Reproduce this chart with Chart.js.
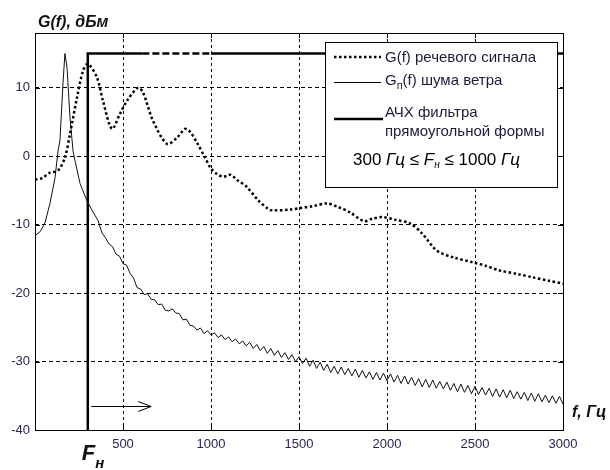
<!DOCTYPE html>
<html>
<head>
<meta charset="utf-8">
<script src="https://cdn.jsdelivr.net/npm/chart.js@4"></script>
<style>
  body { margin: 0; background: #fff; }
</style>
</head>
<body>
<canvas id="myChart" width="610" height="470"></canvas>
<script>
const xTicks = [500, 1000, 1500, 2000, 2500, 3000];
const yTicks = [-40, -30, -20, -10, 0, 10];

// G(f) speech signal, dBm
const speechF = [0, 40, 85, 131, 170, 199, 239, 273, 301, 352, 386, 437, 483, 523, 585, 614, 670, 750, 807, 852,
  880, 920, 966, 1000, 1034, 1070, 1110, 1150, 1204, 1270, 1320, 1346, 1450, 1500, 1580, 1660, 1720, 1790, 1870,
  1920, 1977, 2050, 2130, 2200, 2283, 2380, 2488, 2560, 2641, 2740, 2829, 2920, 3000];
const speechG = [-3.4, -3.2, -2.4, -2.1, -0.2, 3.3, 8.6, 12.5, 13.5, 11.5, 8.1, 4.0, 6.2, 8.1, 10.0, 9.3, 5.2, 1.8, 2.7, 4.0,
  3.6, 2.0, -0.2, -1.8, -2.6, -3.0, -2.7, -3.5, -4.5, -6.5, -7.6, -7.9, -7.8, -7.6, -7.3, -6.9, -7.4, -8.2, -9.5,
  -9.1, -8.9, -9.3, -9.8, -11.3, -13.8, -14.8, -15.5, -16.0, -16.7, -17.2, -17.7, -18.2, -18.6];

// Gп(f) wind noise, dBm
const noiseF = [0, 30, 57, 85, 114, 131, 142, 159, 170, 182, 199, 216, 227, 256, 295, 324, 358, 380,
  400, 420, 440, 460, 480, 500, 520, 540, 560, 580,
  600, 620, 640, 660, 680, 700, 720, 740, 760, 780,
  800, 820, 840, 860, 880, 900, 920, 940, 960, 980,
  1000, 1020, 1040, 1060, 1080, 1100, 1120, 1140, 1160, 1180,
  1200, 1220, 1240, 1260, 1280, 1300, 1320, 1340, 1360, 1380,
  1400, 1420, 1440, 1460, 1480, 1500, 1520, 1540, 1560, 1580,
  1600, 1620, 1640, 1660, 1680, 1700, 1720, 1740, 1760, 1780,
  1800, 1820, 1840, 1860, 1880, 1900, 1920, 1940, 1960, 1980,
  2000, 2020, 2040, 2060, 2080, 2100, 2120, 2140, 2160, 2180,
  2200, 2220, 2240, 2260, 2280, 2300, 2320, 2340, 2360, 2380,
  2400, 2420, 2440, 2460, 2480, 2500, 2520, 2540, 2560, 2580,
  2600, 2620, 2640, 2660, 2680, 2700, 2720, 2740, 2760, 2780,
  2800, 2820, 2840, 2860, 2880, 2900, 2920, 2940, 2960, 2980,
  3000];
const noiseG = [-11.6, -11.0, -9.7, -6.9, -3.1, 0.8, 2.3, 10.6, 15.0, 12.9, 5.6, 0.8, -0.6, -4.0, -6.5, -7.9, -9.4, -11.2,
  -11.9, -12.8, -13.2, -14.3, -14.6, -15.7, -15.9, -17.1, -17.8, -19.2,
  -19.4, -20.2, -20.1, -20.9, -21.0, -21.7, -21.6, -22.5, -22.6, -22.3,
  -22.9, -23.0, -23.9, -23.8, -24.7, -24.8, -25.4, -25.1, -25.9, -25.5,
  -26.1, -25.8, -26.5, -26.1, -26.8, -26.4, -27.1, -26.7, -27.4, -27.0,
  -27.7, -27.2, -28.1, -27.5, -28.4, -27.8, -28.8, -28.1, -29.1, -28.4,
  -29.4, -28.7, -29.7, -29.0, -30.0, -29.3, -30.3, -29.5, -30.7, -29.8,
  -31.0, -30.1, -31.3, -30.4, -31.6, -30.7, -31.8, -30.8, -31.9, -31.0,
  -32.1, -31.1, -32.3, -31.3, -32.4, -31.5, -32.6, -31.6, -32.7, -31.7,
  -32.8, -31.8, -33.0, -32.0, -33.2, -32.1, -33.3, -32.3, -33.5, -32.5,
  -33.7, -32.6, -33.8, -32.7, -33.9, -32.9, -34.0, -33.0, -34.2, -33.2,
  -34.4, -33.3, -34.5, -33.5, -34.7, -33.6, -34.8, -33.8, -34.9, -33.9,
  -35.1, -34.0, -35.2, -34.1, -35.3, -34.2, -35.4, -34.4, -35.5, -34.5,
  -35.7, -34.6, -35.8, -34.7, -35.9, -34.9, -36.0, -35.0, -36.1, -35.1,
  -36.2];

// АЧХ filter (rectangular), Fн = 300 Hz
const filterF = [300, 300, 610, 1000, 3000];
const filterG = [-40, 15, 15, 15, 15];

const FONT = "'Liberation Sans', Arial, sans-serif";
const toXY = (xs, ys) => xs.map((x, i) => ({ x: x, y: ys[i] }));

function drawRuns(c, x, y, runs) {
  runs.forEach(([t, font, dy]) => {
    c.font = font;
    c.fillText(t, x, y + (dy || 0));
    x += c.measureText(t).width;
  });
}

const decor = {
  id: "decor",
  afterDatasetsDraw(chart) {
    const c = chart.ctx;
    const a = chart.chartArea;
    // legend box
    const bw = 232, bh = 145;
    const bx = a.right - 6 - bw, by = a.top + 9;
    c.save();
    c.fillStyle = "#fff";
    c.fillRect(bx, by, bw, bh);
    c.strokeStyle = "#000";
    c.lineWidth = 1;
    c.strokeRect(bx + 0.5, by + 0.5, bw, bh);

    const lx0 = bx + 9, lx1 = bx + 56;
    c.lineCap = "butt";
    // dotted sample
    c.lineWidth = 2.5;
    c.setLineDash([2.5, 2.5]);
    c.beginPath(); c.moveTo(lx0, by + 15); c.lineTo(lx1, by + 15); c.stroke();
    c.setLineDash([]);
    // thin sample
    c.lineWidth = 1;
    c.beginPath(); c.moveTo(lx0, by + 40.5); c.lineTo(lx1, by + 40.5); c.stroke();
    // thick sample
    c.lineWidth = 2.5;
    c.beginPath(); c.moveTo(lx0, by + 77); c.lineTo(lx1 + 2, by + 77); c.stroke();

    c.fillStyle = "#1c1c38";
    c.textBaseline = "alphabetic";
    const f15 = "15px " + FONT;
    const tx = bx + 60;
    drawRuns(c, tx, by + 20, [["G(f) речевого сигнала", f15]]);
    drawRuns(c, tx, by + 43, [["G", f15], ["п", "11px " + FONT, 4], ["(f) шума ветра", f15]]);
    drawRuns(c, tx, by + 75, [["АЧХ фильтра", f15]]);
    drawRuns(c, tx, by + 94, [["прямоугольной формы", f15]]);
    c.fillStyle = "#000";
    const f17 = "17px " + FONT, i17 = "italic 17px " + FONT;
    drawRuns(c, bx + 28, by + 123, [
      ["300 ", f17], ["Гц", i17], [" ≤ ", f17], ["F", i17], ["н", "italic 10px " + FONT, 3],
      [" ≤ 1000 ", f17], ["Гц", i17]
    ]);
    c.restore();
  },
  afterDraw(chart) {
    const c = chart.ctx;
    const a = chart.chartArea;
    const xs = chart.scales.x, ys = chart.scales.y;
    c.save();
    c.strokeStyle = "#000";
    c.lineWidth = 1;
    // frame
    c.strokeRect(Math.round(a.left) + 0.5, Math.round(a.top) + 0.5,
      Math.round(a.right - a.left), Math.round(a.bottom - a.top));
    // inner ticks
    c.beginPath();
    xTicks.forEach(v => {
      const px = Math.round(xs.getPixelForValue(v)) + 0.5;
      c.moveTo(px, a.top); c.lineTo(px, a.top + 5);
      c.moveTo(px, a.bottom); c.lineTo(px, a.bottom - 5);
    });
    yTicks.forEach(v => {
      const py = Math.round(ys.getPixelForValue(v)) + 0.5;
      c.moveTo(a.right, py); c.lineTo(a.right - 5, py);
      c.moveTo(a.left, py); c.lineTo(a.left + 5, py);
    });
    c.stroke();

    // arrow to the right of Fн
    const ay = Math.round(ys.getPixelForValue(-36.5)) + 0.5;
    const ax0 = xs.getPixelForValue(320), ax1 = xs.getPixelForValue(660);
    c.beginPath();
    c.moveTo(ax0, ay); c.lineTo(ax1, ay);
    c.moveTo(ax1 - 13, ay - 5); c.lineTo(ax1, ay); c.lineTo(ax1 - 13, ay + 5);
    c.stroke();

    // axis titles
    c.fillStyle = "#111";
    c.textBaseline = "alphabetic";
    drawRuns(c, a.left + 3, 27, [["G(f), дБм", "bold italic 16px " + FONT]]);
    drawRuns(c, a.right + 9, 417, [["f, Гц", "bold italic 16px " + FONT]]);
    drawRuns(c, xs.getPixelForValue(300) - 6, 460, [
      ["F", "bold italic 22px " + FONT], ["н", "bold italic 15px " + FONT, 8]
    ]);
    c.restore();
  }
};

const ctx = document.getElementById("myChart");

new Chart(ctx, {
  type: "line",
  data: {
    datasets: [
      {
        label: "G(f) речевого сигнала",
        data: toXY(speechF, speechG),
        borderColor: "#000",
        borderWidth: 2.5,
        borderDash: [2.5, 2.5],
        borderCapStyle: "butt",
        pointRadius: 0,
        tension: 0.3,
      },
      {
        label: "Gп(f) шума ветра",
        data: toXY(noiseF, noiseG),
        borderColor: "#111",
        borderWidth: 1,
        pointRadius: 0,
        tension: 0,
      },
      {
        label: "АЧХ фильтра прямоугольной формы",
        data: toXY(filterF, filterG),
        borderColor: "#000",
        borderWidth: 2.5,
        borderCapStyle: "butt",
        pointRadius: 0,
        tension: 0,
        segment: {
          borderDash: s => (s.p0.parsed.x >= 600 && s.p1.parsed.x <= 1000) ? [7, 3] : undefined,
        },
      },
    ],
  },
  options: {
    responsive: false,
    animation: false,
    layout: { padding: { left: 0, top: 33, right: 47, bottom: 0 } },
    plugins: { legend: { display: false }, tooltip: { enabled: false } },
    scales: {
      x: {
        type: "linear",
        min: 0,
        max: 3000,
        afterBuildTicks: s => { s.ticks = xTicks.map(v => ({ value: v })); },
        afterFit: s => { s.height = 40; },
        grid: { color: "#000", lineWidth: 1, drawTicks: false },
        border: { display: false, dash: [3, 3] },
        ticks: {
          color: "#262650", font: { family: FONT, size: 13 }, padding: 7, maxRotation: 0,
          callback: v => String(v),
        },
      },
      y: {
        type: "linear",
        min: -40,
        max: 18,
        afterBuildTicks: s => { s.ticks = yTicks.map(v => ({ value: v })); },
        afterFit: s => { s.width = 35; },
        grid: { color: "#000", lineWidth: 1, drawTicks: false },
        border: { display: false, dash: [4, 3] },
        ticks: { color: "#262650", font: { family: FONT, size: 13 }, padding: 5 },
      },
    },
  },
  plugins: [decor],
});
</script>
</body>
</html>
